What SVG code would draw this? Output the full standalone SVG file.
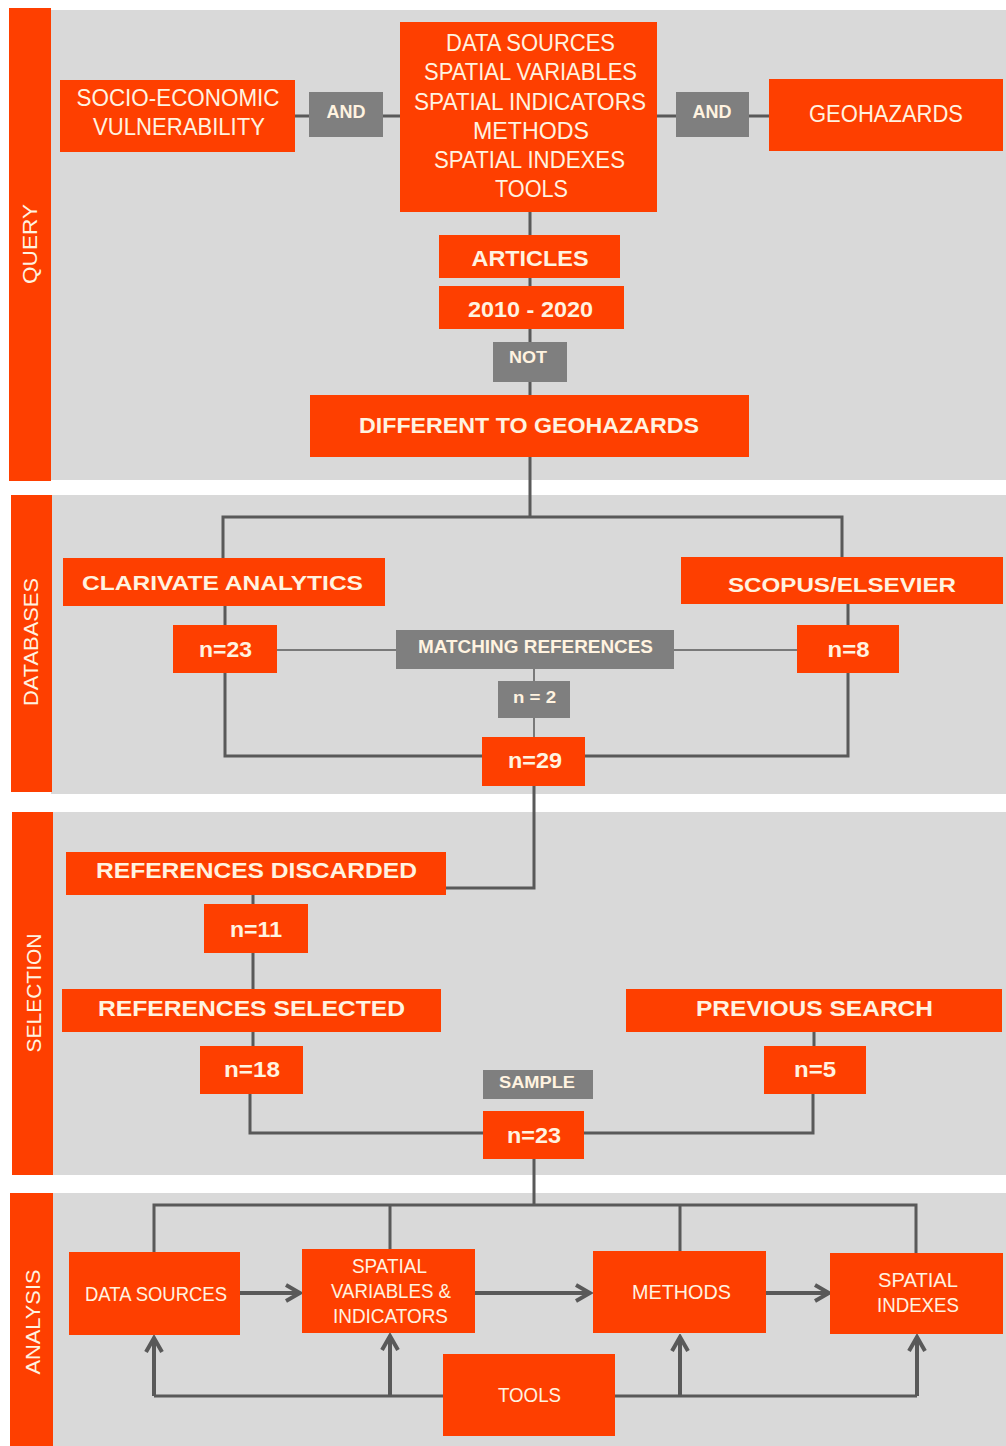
<svg xmlns="http://www.w3.org/2000/svg" width="1006" height="1446" viewBox="0 0 1006 1446">
<defs>
<style>
.panel{fill:#d9d9d9}
.bar{fill:#fe3f00}
.box{fill:#fe3f00}
.gbox{fill:#7f7f7f}
.t{font-family:"Liberation Sans",Arial,sans-serif;fill:#fff3e0;text-anchor:middle}
.b{font-weight:bold}
.side{font-family:"Liberation Sans",Arial,sans-serif;fill:#fff3e0;text-anchor:middle;font-size:20px}
.conn{stroke:#595959;stroke-width:3;fill:none}
.thin{stroke:#595959;stroke-width:1.5;fill:none}
.arr{stroke:#595959;stroke-width:4;fill:none}
</style>
<marker id="chev" viewBox="0 0 20 20" refX="17" refY="10" markerWidth="20" markerHeight="20" markerUnits="userSpaceOnUse" orient="auto">
<path d="M3,2 L17,10 L3,18" fill="none" stroke="#595959" stroke-width="4"/>
</marker>
</defs>
<rect width="1006" height="1446" fill="#ffffff"/>

<g id="sections">
<rect class="panel" x="51" y="10" width="955" height="470"/>
<rect class="bar" x="9" y="8" width="42" height="473"/>
<text class="side" transform="translate(37,244) rotate(-90)" textLength="80" lengthAdjust="spacingAndGlyphs">QUERY</text>
<rect class="panel" x="51" y="495" width="955" height="299"/>
<rect class="bar" x="11" y="495" width="41" height="297"/>
<text class="side" transform="translate(38,642) rotate(-90)" textLength="128" lengthAdjust="spacingAndGlyphs">DATABASES</text>
<rect class="panel" x="52" y="812" width="954" height="363"/>
<rect class="bar" x="12" y="812" width="41" height="363"/>
<text class="side" transform="translate(41,993) rotate(-90)" textLength="119" lengthAdjust="spacingAndGlyphs">SELECTION</text>
<rect class="panel" x="52" y="1193" width="954" height="253"/>
<rect class="bar" x="10" y="1193" width="43" height="253"/>
<text class="side" transform="translate(40,1322) rotate(-90)" textLength="105" lengthAdjust="spacingAndGlyphs">ANALYSIS</text>
</g>

<g id="connectors">
<path class="conn" d="M295,116 H309 M383,116 H400 M657,116 H676 M749,116 H769"/>
<path class="conn" d="M530,212 V235 M530,278 V286 M530,329 V342 M530,382 V395 M530,457 V517"/>
<path class="conn" d="M223,558 V517 H842 V557"/>
<path class="conn" d="M225,606 V625 M848,604 V625"/>
<path class="thin" d="M277,650 H396 M674,650 H797 M534,669 V681 M534,718 V737"/>
<path class="conn" d="M225,673 V756 H482 M848,673 V756 H585"/>
<path class="conn" d="M534,786 V888 H446"/>
<path class="conn" d="M253,895 V904 M253,953 V989 M253,1032 V1046 M814,1032 V1046"/>
<path class="conn" d="M250,1094 V1133 H483 M813,1094 V1133 H584"/>
<path class="conn" d="M534,1159 V1205 M154,1252 V1205 H916 V1253 M390,1205 V1249 M680,1205 V1251"/>
<path class="arr" marker-end="url(#chev)" d="M240,1293 H300"/>
<path class="arr" marker-end="url(#chev)" d="M475,1293 H590"/>
<path class="arr" marker-end="url(#chev)" d="M765,1293 H829"/>
<path class="conn" d="M443,1396 H154 M615,1396 H917"/>
<path class="arr" marker-end="url(#chev)" d="M154,1396 V1338"/>
<path class="arr" marker-end="url(#chev)" d="M390,1396 V1336"/>
<path class="arr" marker-end="url(#chev)" d="M680,1396 V1337"/>
<path class="arr" marker-end="url(#chev)" d="M917,1396 V1337"/>
</g>

<g id="socio">
<rect class="box" x="60" y="80" width="235" height="72"/>
<text class="t" x="178" y="106" font-size="23" textLength="203" lengthAdjust="spacingAndGlyphs">SOCIO-ECONOMIC</text>
<text class="t" x="179" y="135" font-size="23" textLength="172" lengthAdjust="spacingAndGlyphs">VULNERABILITY</text>
</g>
<g id="and1">
<rect class="gbox" x="309" y="92" width="74" height="45"/>
<text class="t b" x="346" y="118" font-size="18">AND</text>
</g>
<g id="central">
<rect class="box" x="400" y="22" width="257" height="190"/>
<text class="t" x="530.5" y="51" font-size="24" textLength="169" lengthAdjust="spacingAndGlyphs">DATA SOURCES</text>
<text class="t" x="530.5" y="80" font-size="24" textLength="213" lengthAdjust="spacingAndGlyphs">SPATIAL VARIABLES</text>
<text class="t" x="530" y="110" font-size="24" textLength="232" lengthAdjust="spacingAndGlyphs">SPATIAL INDICATORS</text>
<text class="t" x="531" y="139" font-size="24" textLength="116" lengthAdjust="spacingAndGlyphs">METHODS</text>
<text class="t" x="529.5" y="168" font-size="24" textLength="191" lengthAdjust="spacingAndGlyphs">SPATIAL INDEXES</text>
<text class="t" x="531.5" y="197" font-size="24" textLength="73" lengthAdjust="spacingAndGlyphs">TOOLS</text>
</g>
<g id="and2">
<rect class="gbox" x="676" y="92" width="73" height="45"/>
<text class="t b" x="712" y="118" font-size="18">AND</text>
</g>
<g id="geohazards">
<rect class="box" x="769" y="79" width="234" height="72"/>
<text class="t" x="886" y="122" font-size="23" textLength="154" lengthAdjust="spacingAndGlyphs">GEOHAZARDS</text>
</g>
<g id="articles">
<rect class="box" x="439" y="235" width="181" height="43"/>
<text class="t b" x="530" y="266" font-size="22" textLength="117" lengthAdjust="spacingAndGlyphs">ARTICLES</text>
</g>
<g id="years">
<rect class="box" x="439" y="286" width="185" height="43"/>
<text class="t b" x="530.5" y="317" font-size="22" textLength="125" lengthAdjust="spacingAndGlyphs">2010 - 2020</text>
</g>
<g id="not">
<rect class="gbox" x="493" y="342" width="74" height="40"/>
<text class="t b" x="528" y="363" font-size="17" textLength="38" lengthAdjust="spacingAndGlyphs">NOT</text>
</g>
<g id="different">
<rect class="box" x="310" y="395" width="439" height="62"/>
<text class="t b" x="529" y="433" font-size="22" textLength="340" lengthAdjust="spacingAndGlyphs">DIFFERENT TO GEOHAZARDS</text>
</g>

<g id="clarivate">
<rect class="box" x="63" y="558" width="322" height="48"/>
<text class="t b" x="222.5" y="590" font-size="21" textLength="281" lengthAdjust="spacingAndGlyphs">CLARIVATE  ANALYTICS</text>
</g>
<g id="scopus">
<rect class="box" x="681" y="557" width="322" height="47"/>
<text class="t b" x="842" y="592" font-size="21" textLength="228" lengthAdjust="spacingAndGlyphs">SCOPUS/ELSEVIER</text>
</g>
<g id="n23a">
<rect class="box" x="173" y="625" width="104" height="48"/>
<text class="t b" x="225.5" y="657" font-size="22" textLength="53" lengthAdjust="spacingAndGlyphs">n=23</text>
</g>
<g id="matching">
<rect class="gbox" x="396" y="630" width="278" height="39"/>
<text class="t b" x="535.5" y="653" font-size="18" textLength="235" lengthAdjust="spacingAndGlyphs">MATCHING  REFERENCES</text>
</g>
<g id="n8">
<rect class="box" x="797" y="625" width="102" height="48"/>
<text class="t b" x="848.5" y="657" font-size="22" textLength="42" lengthAdjust="spacingAndGlyphs">n=8</text>
</g>
<g id="n2">
<rect class="gbox" x="498" y="681" width="72" height="37"/>
<text class="t b" x="534.5" y="703" font-size="17" textLength="43" lengthAdjust="spacingAndGlyphs">n = 2</text>
</g>
<g id="n29">
<rect class="box" x="482" y="737" width="103" height="49"/>
<text class="t b" x="535" y="768" font-size="22" textLength="54" lengthAdjust="spacingAndGlyphs">n=29</text>
</g>

<g id="discarded">
<rect class="box" x="66" y="852" width="380" height="43"/>
<text class="t b" x="256.5" y="878" font-size="22" textLength="321" lengthAdjust="spacingAndGlyphs">REFERENCES  DISCARDED</text>
</g>
<g id="n11">
<rect class="box" x="204" y="904" width="104" height="49"/>
<text class="t b" x="256" y="937" font-size="22" textLength="52" lengthAdjust="spacingAndGlyphs">n=11</text>
</g>
<g id="selected">
<rect class="box" x="62" y="989" width="379" height="43"/>
<text class="t b" x="251.5" y="1016" font-size="22" textLength="307" lengthAdjust="spacingAndGlyphs">REFERENCES  SELECTED</text>
</g>
<g id="previous">
<rect class="box" x="626" y="989" width="376" height="43"/>
<text class="t b" x="814.5" y="1016" font-size="22" textLength="237" lengthAdjust="spacingAndGlyphs">PREVIOUS  SEARCH</text>
</g>
<g id="n18">
<rect class="box" x="200" y="1046" width="103" height="48"/>
<text class="t b" x="252" y="1077" font-size="22" textLength="56" lengthAdjust="spacingAndGlyphs">n=18</text>
</g>
<g id="n5">
<rect class="box" x="764" y="1046" width="102" height="48"/>
<text class="t b" x="815" y="1077" font-size="22" textLength="42" lengthAdjust="spacingAndGlyphs">n=5</text>
</g>
<g id="sample">
<rect class="gbox" x="483" y="1070" width="110" height="29"/>
<text class="t b" x="537" y="1088" font-size="17" textLength="76" lengthAdjust="spacingAndGlyphs">SAMPLE</text>
</g>
<g id="n23b">
<rect class="box" x="483" y="1111" width="101" height="48"/>
<text class="t b" x="534" y="1143" font-size="22" textLength="54" lengthAdjust="spacingAndGlyphs">n=23</text>
</g>

<g id="a_datasources">
<rect class="box" x="69" y="1252" width="171" height="83"/>
<text class="t" x="156" y="1301" font-size="21" textLength="142" lengthAdjust="spacingAndGlyphs">DATA SOURCES</text>
</g>
<g id="a_spatialvars">
<rect class="box" x="302" y="1249" width="173" height="84"/>
<text class="t" x="389.5" y="1273" font-size="20" textLength="75" lengthAdjust="spacingAndGlyphs">SPATIAL</text>
<text class="t" x="391" y="1298" font-size="20" textLength="120" lengthAdjust="spacingAndGlyphs">VARIABLES &amp;</text>
<text class="t" x="390.5" y="1323" font-size="20" textLength="115" lengthAdjust="spacingAndGlyphs">INDICATORS</text>
</g>
<g id="a_methods">
<rect class="box" x="593" y="1251" width="173" height="82"/>
<text class="t" x="681.5" y="1299" font-size="20" textLength="99" lengthAdjust="spacingAndGlyphs">METHODS</text>
</g>
<g id="a_indexes">
<rect class="box" x="830" y="1253" width="173" height="81"/>
<text class="t" x="918" y="1287" font-size="20" textLength="80" lengthAdjust="spacingAndGlyphs">SPATIAL</text>
<text class="t" x="918" y="1312" font-size="20" textLength="82" lengthAdjust="spacingAndGlyphs">INDEXES</text>
</g>
<g id="a_tools">
<rect class="box" x="443" y="1354" width="172" height="82"/>
<text class="t" x="529.5" y="1402" font-size="20" textLength="63" lengthAdjust="spacingAndGlyphs">TOOLS</text>
</g>
</svg>
